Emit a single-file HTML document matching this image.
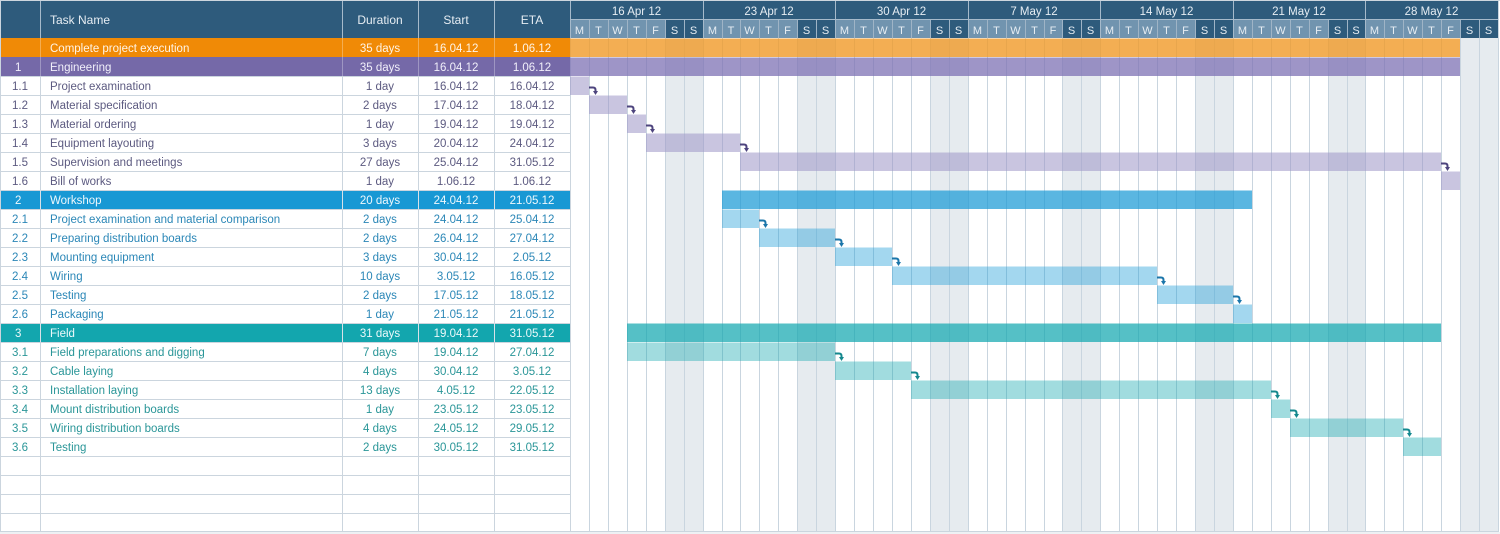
<!DOCTYPE html>
<html><head><meta charset="utf-8"><style>
html,body{margin:0;padding:0;background:#fff;}
svg{display:block;font-family:"Liberation Sans",Arial,sans-serif;}
</style></head><body>
<svg width="1500" height="534" viewBox="0 0 1500 534" xmlns="http://www.w3.org/2000/svg">
<rect x="0" y="0" width="1500" height="534" fill="#fff"/>
<!-- header -->
<rect x="0" y="0" width="1500" height="1" fill="#cdd6de"/>
<rect x="0" y="1" width="1499" height="37" fill="#2e5b7c"/>
<g fill="#7194af">
<rect x="570" y="20" width="95" height="18"/>
<rect x="703" y="20" width="94" height="18"/>
<rect x="835" y="20" width="95" height="18"/>
<rect x="968" y="20" width="94" height="18"/>
<rect x="1100" y="20" width="95" height="18"/>
<rect x="1233" y="20" width="95" height="18"/>
<rect x="1365" y="20" width="95" height="18"/>
</g>
<g stroke="#a6bacb" stroke-width="1">
<line x1="40.5" y1="1" x2="40.5" y2="38"/>
<line x1="342.5" y1="1" x2="342.5" y2="38"/>
<line x1="418.5" y1="1" x2="418.5" y2="38"/>
<line x1="494.5" y1="1" x2="494.5" y2="38"/>
<line x1="570.5" y1="1" x2="570.5" y2="38"/>
<line x1="570" y1="19.5" x2="1499" y2="19.5"/>
<line x1="703.5" y1="1" x2="703.5" y2="38"/>
<line x1="835.5" y1="1" x2="835.5" y2="38"/>
<line x1="968.5" y1="1" x2="968.5" y2="38"/>
<line x1="1100.5" y1="1" x2="1100.5" y2="38"/>
<line x1="1233.5" y1="1" x2="1233.5" y2="38"/>
<line x1="1365.5" y1="1" x2="1365.5" y2="38"/>
</g>
<g stroke="#9fb4c6" stroke-width="1">
<line x1="589.5" y1="20" x2="589.5" y2="38"/><line x1="608.5" y1="20" x2="608.5" y2="38"/><line x1="627.5" y1="20" x2="627.5" y2="38"/><line x1="646.5" y1="20" x2="646.5" y2="38"/><line x1="665.5" y1="20" x2="665.5" y2="38"/><line x1="684.5" y1="20" x2="684.5" y2="38"/>
<line x1="722.5" y1="20" x2="722.5" y2="38"/><line x1="740.5" y1="20" x2="740.5" y2="38"/><line x1="759.5" y1="20" x2="759.5" y2="38"/><line x1="778.5" y1="20" x2="778.5" y2="38"/><line x1="797.5" y1="20" x2="797.5" y2="38"/><line x1="816.5" y1="20" x2="816.5" y2="38"/>
<line x1="854.5" y1="20" x2="854.5" y2="38"/><line x1="873.5" y1="20" x2="873.5" y2="38"/><line x1="892.5" y1="20" x2="892.5" y2="38"/><line x1="911.5" y1="20" x2="911.5" y2="38"/><line x1="930.5" y1="20" x2="930.5" y2="38"/><line x1="949.5" y1="20" x2="949.5" y2="38"/>
<line x1="987.5" y1="20" x2="987.5" y2="38"/><line x1="1006.5" y1="20" x2="1006.5" y2="38"/><line x1="1025.5" y1="20" x2="1025.5" y2="38"/><line x1="1044.5" y1="20" x2="1044.5" y2="38"/><line x1="1062.5" y1="20" x2="1062.5" y2="38"/><line x1="1081.5" y1="20" x2="1081.5" y2="38"/>
<line x1="1119.5" y1="20" x2="1119.5" y2="38"/><line x1="1138.5" y1="20" x2="1138.5" y2="38"/><line x1="1157.5" y1="20" x2="1157.5" y2="38"/><line x1="1176.5" y1="20" x2="1176.5" y2="38"/><line x1="1195.5" y1="20" x2="1195.5" y2="38"/><line x1="1214.5" y1="20" x2="1214.5" y2="38"/>
<line x1="1252.5" y1="20" x2="1252.5" y2="38"/><line x1="1271.5" y1="20" x2="1271.5" y2="38"/><line x1="1290.5" y1="20" x2="1290.5" y2="38"/><line x1="1309.5" y1="20" x2="1309.5" y2="38"/><line x1="1328.5" y1="20" x2="1328.5" y2="38"/><line x1="1347.5" y1="20" x2="1347.5" y2="38"/>
<line x1="1384.5" y1="20" x2="1384.5" y2="38"/><line x1="1403.5" y1="20" x2="1403.5" y2="38"/><line x1="1422.5" y1="20" x2="1422.5" y2="38"/><line x1="1441.5" y1="20" x2="1441.5" y2="38"/><line x1="1460.5" y1="20" x2="1460.5" y2="38"/><line x1="1479.5" y1="20" x2="1479.5" y2="38"/>
</g>
<g fill="#e6edf3" font-size="12">
<text x="50" y="24">Task Name</text>
<text x="380" y="24" text-anchor="middle">Duration</text>
<text x="456" y="24" text-anchor="middle">Start</text>
<text x="532" y="24" text-anchor="middle">ETA</text>
</g>
<g fill="#e6edf3" font-size="11.5" text-anchor="middle">
<text x="636.5" y="15">16 Apr 12</text>
<text x="769" y="15">23 Apr 12</text>
<text x="901.5" y="15">30 Apr 12</text>
<text x="1034" y="15">7 May 12</text>
<text x="1166.5" y="15">14 May 12</text>
<text x="1299" y="15">21 May 12</text>
<text x="1431.5" y="15">28 May 12</text>
</g>
<g fill="#e6edf3" font-size="11" text-anchor="middle">
<text x="579.5" y="34">M</text><text x="598.5" y="34">T</text><text x="617.5" y="34">W</text><text x="636.5" y="34">T</text><text x="655.5" y="34">F</text><text x="674.5" y="34">S</text><text x="693.5" y="34">S</text>
<text x="712.5" y="34">M</text><text x="731" y="34">T</text><text x="749.5" y="34">W</text><text x="768.5" y="34">T</text><text x="787.5" y="34">F</text><text x="806.5" y="34">S</text><text x="825.5" y="34">S</text>
<text x="844.5" y="34">M</text><text x="863.5" y="34">T</text><text x="882.5" y="34">W</text><text x="901.5" y="34">T</text><text x="920.5" y="34">F</text><text x="939.5" y="34">S</text><text x="958.5" y="34">S</text>
<text x="977.5" y="34">M</text><text x="996.5" y="34">T</text><text x="1015.5" y="34">W</text><text x="1034.5" y="34">T</text><text x="1053" y="34">F</text><text x="1071.5" y="34">S</text><text x="1090.5" y="34">S</text>
<text x="1109.5" y="34">M</text><text x="1128.5" y="34">T</text><text x="1147.5" y="34">W</text><text x="1166.5" y="34">T</text><text x="1185.5" y="34">F</text><text x="1204.5" y="34">S</text><text x="1223.5" y="34">S</text>
<text x="1242.5" y="34">M</text><text x="1261.5" y="34">T</text><text x="1280.5" y="34">W</text><text x="1299.5" y="34">T</text><text x="1318.5" y="34">F</text><text x="1337.5" y="34">S</text><text x="1356" y="34">S</text>
<text x="1374.5" y="34">M</text><text x="1393.5" y="34">T</text><text x="1412.5" y="34">W</text><text x="1431.5" y="34">T</text><text x="1450.5" y="34">F</text><text x="1469.5" y="34">S</text><text x="1488.5" y="34">S</text>
</g>

<!-- table summary row backgrounds -->
<rect x="0" y="38" width="570" height="19" fill="#f08a06"/>
<rect x="0" y="57" width="570" height="19" fill="#7569a8"/>
<rect x="0" y="190" width="570" height="19" fill="#1898d4"/>
<rect x="0" y="323" width="570" height="19" fill="#13a6ae"/>

<!-- weekend shading -->
<g fill="#e6ebef">
<rect x="665" y="38" width="38" height="494"/>
<rect x="797" y="38" width="38" height="494"/>
<rect x="930" y="38" width="38" height="494"/>
<rect x="1062" y="38" width="38" height="494"/>
<rect x="1195" y="38" width="38" height="494"/>
<rect x="1328" y="38" width="37" height="494"/>
<rect x="1460" y="38" width="38" height="494"/>
</g>
<!-- chart gridlines -->
<g stroke="#c9d5df" stroke-width="1">
<line x1="589.5" y1="38" x2="589.5" y2="532"/><line x1="608.5" y1="38" x2="608.5" y2="532"/><line x1="627.5" y1="38" x2="627.5" y2="532"/><line x1="646.5" y1="38" x2="646.5" y2="532"/><line x1="665.5" y1="38" x2="665.5" y2="532"/><line x1="684.5" y1="38" x2="684.5" y2="532"/><line x1="703.5" y1="38" x2="703.5" y2="532"/>
<line x1="722.5" y1="38" x2="722.5" y2="532"/><line x1="740.5" y1="38" x2="740.5" y2="532"/><line x1="759.5" y1="38" x2="759.5" y2="532"/><line x1="778.5" y1="38" x2="778.5" y2="532"/><line x1="797.5" y1="38" x2="797.5" y2="532"/><line x1="816.5" y1="38" x2="816.5" y2="532"/><line x1="835.5" y1="38" x2="835.5" y2="532"/>
<line x1="854.5" y1="38" x2="854.5" y2="532"/><line x1="873.5" y1="38" x2="873.5" y2="532"/><line x1="892.5" y1="38" x2="892.5" y2="532"/><line x1="911.5" y1="38" x2="911.5" y2="532"/><line x1="930.5" y1="38" x2="930.5" y2="532"/><line x1="949.5" y1="38" x2="949.5" y2="532"/><line x1="968.5" y1="38" x2="968.5" y2="532"/>
<line x1="987.5" y1="38" x2="987.5" y2="532"/><line x1="1006.5" y1="38" x2="1006.5" y2="532"/><line x1="1025.5" y1="38" x2="1025.5" y2="532"/><line x1="1044.5" y1="38" x2="1044.5" y2="532"/><line x1="1062.5" y1="38" x2="1062.5" y2="532"/><line x1="1081.5" y1="38" x2="1081.5" y2="532"/><line x1="1100.5" y1="38" x2="1100.5" y2="532"/>
<line x1="1119.5" y1="38" x2="1119.5" y2="532"/><line x1="1138.5" y1="38" x2="1138.5" y2="532"/><line x1="1157.5" y1="38" x2="1157.5" y2="532"/><line x1="1176.5" y1="38" x2="1176.5" y2="532"/><line x1="1195.5" y1="38" x2="1195.5" y2="532"/><line x1="1214.5" y1="38" x2="1214.5" y2="532"/><line x1="1233.5" y1="38" x2="1233.5" y2="532"/>
<line x1="1252.5" y1="38" x2="1252.5" y2="532"/><line x1="1271.5" y1="38" x2="1271.5" y2="532"/><line x1="1290.5" y1="38" x2="1290.5" y2="532"/><line x1="1309.5" y1="38" x2="1309.5" y2="532"/><line x1="1328.5" y1="38" x2="1328.5" y2="532"/><line x1="1347.5" y1="38" x2="1347.5" y2="532"/><line x1="1365.5" y1="38" x2="1365.5" y2="532"/>
<line x1="1384.5" y1="38" x2="1384.5" y2="532"/><line x1="1403.5" y1="38" x2="1403.5" y2="532"/><line x1="1422.5" y1="38" x2="1422.5" y2="532"/><line x1="1441.5" y1="38" x2="1441.5" y2="532"/><line x1="1460.5" y1="38" x2="1460.5" y2="532"/><line x1="1479.5" y1="38" x2="1479.5" y2="532"/><line x1="1498.5" y1="1" x2="1498.5" y2="532"/>
</g>

<!-- table grid -->
<g stroke="#cbd5de" stroke-width="1">
<line x1="0" y1="76.5" x2="570" y2="76.5"/><line x1="0" y1="95.5" x2="570" y2="95.5"/><line x1="0" y1="114.5" x2="570" y2="114.5"/><line x1="0" y1="133.5" x2="570" y2="133.5"/><line x1="0" y1="152.5" x2="570" y2="152.5"/><line x1="0" y1="171.5" x2="570" y2="171.5"/><line x1="0" y1="190.5" x2="570" y2="190.5"/>
<line x1="0" y1="209.5" x2="570" y2="209.5"/><line x1="0" y1="228.5" x2="570" y2="228.5"/><line x1="0" y1="247.5" x2="570" y2="247.5"/><line x1="0" y1="266.5" x2="570" y2="266.5"/><line x1="0" y1="285.5" x2="570" y2="285.5"/><line x1="0" y1="304.5" x2="570" y2="304.5"/><line x1="0" y1="323.5" x2="570" y2="323.5"/>
<line x1="0" y1="342.5" x2="570" y2="342.5"/><line x1="0" y1="361.5" x2="570" y2="361.5"/><line x1="0" y1="380.5" x2="570" y2="380.5"/><line x1="0" y1="399.5" x2="570" y2="399.5"/><line x1="0" y1="418.5" x2="570" y2="418.5"/><line x1="0" y1="437.5" x2="570" y2="437.5"/><line x1="0" y1="456.5" x2="570" y2="456.5"/>
<line x1="0" y1="475.5" x2="570" y2="475.5"/><line x1="0" y1="494.5" x2="570" y2="494.5"/><line x1="0" y1="513.5" x2="570" y2="513.5"/><line x1="0" y1="531.5" x2="1499" y2="531.5"/>
<line x1="0.5" y1="0" x2="0.5" y2="532"/>
<line x1="40.5" y1="76" x2="40.5" y2="532"/>
<line x1="342.5" y1="76" x2="342.5" y2="532"/>
<line x1="418.5" y1="76" x2="418.5" y2="532"/>
<line x1="494.5" y1="76" x2="494.5" y2="532"/>
<line x1="570.5" y1="38" x2="570.5" y2="532"/>
</g>
<g stroke="#ffffff" stroke-opacity="0.3" stroke-width="1">
<line x1="40.5" y1="38" x2="40.5" y2="76"/><line x1="342.5" y1="38" x2="342.5" y2="76"/><line x1="418.5" y1="38" x2="418.5" y2="76"/><line x1="494.5" y1="38" x2="494.5" y2="76"/>
<line x1="40.5" y1="190" x2="40.5" y2="209"/><line x1="342.5" y1="190" x2="342.5" y2="209"/><line x1="418.5" y1="190" x2="418.5" y2="209"/><line x1="494.5" y1="190" x2="494.5" y2="209"/>
<line x1="40.5" y1="323" x2="40.5" y2="342"/><line x1="342.5" y1="323" x2="342.5" y2="342"/><line x1="418.5" y1="323" x2="418.5" y2="342"/><line x1="494.5" y1="323" x2="494.5" y2="342"/>
</g>
<rect x="0" y="532" width="1500" height="2" fill="#eef1f4"/>

<!-- bars -->
<rect x="570" y="38.5" width="890" height="18.5" fill="#f09a28" fill-opacity="0.8"/>
<rect x="570" y="57.5" width="890" height="18.5" fill="#7d72b4" fill-opacity="0.75"/>
<g fill="#9d95c6" fill-opacity="0.55">
<rect x="570" y="76.5" width="19" height="18.5"/>
<rect x="589" y="95.5" width="38" height="18.5"/>
<rect x="627" y="114.5" width="19" height="18.5"/>
<rect x="646" y="133.5" width="94" height="18.5"/>
<rect x="740" y="152.5" width="701" height="18.5"/>
<rect x="1441" y="171.5" width="19" height="18.5"/>
</g>
<rect x="722" y="190.5" width="530" height="18.5" fill="#1a9ad6" fill-opacity="0.72"/>
<g fill="#1a9ad6" fill-opacity="0.4">
<rect x="722" y="209.5" width="37" height="18.5"/>
<rect x="759" y="228.5" width="76" height="18.5"/>
<rect x="835" y="247.5" width="57" height="18.5"/>
<rect x="892" y="266.5" width="265" height="18.5"/>
<rect x="1157" y="285.5" width="76" height="18.5"/>
<rect x="1233" y="304.5" width="19" height="18.5"/>
</g>
<rect x="627" y="323.5" width="814" height="18.5" fill="#14a8b0" fill-opacity="0.72"/>
<g fill="#14a8b0" fill-opacity="0.4">
<rect x="627" y="342.5" width="208" height="18.5"/>
<rect x="835" y="361.5" width="76" height="18.5"/>
<rect x="911" y="380.5" width="360" height="18.5"/>
<rect x="1271" y="399.5" width="19" height="18.5"/>
<rect x="1290" y="418.5" width="113" height="18.5"/>
<rect x="1403" y="437.5" width="38" height="18.5"/>
</g>

<!-- arrows -->
<g fill="none" stroke-width="2">
<g stroke="#4d447e">
<path d="M589 87.5 H593 Q595.5 87.5 595.5 90 V92"/>
<path d="M627 106.5 H631 Q633.5 106.5 633.5 109 V111"/>
<path d="M646 125.5 H650 Q652.5 125.5 652.5 128 V130"/>
<path d="M740 144.5 H744 Q746.5 144.5 746.5 147 V149"/>
<path d="M1441 163.5 H1445 Q1447.5 163.5 1447.5 166 V168"/>
</g>
<g stroke="#1b76aa">
<path d="M759 220.5 H763 Q765.5 220.5 765.5 223 V225"/>
<path d="M835 239.5 H839 Q841.5 239.5 841.5 242 V244"/>
<path d="M892 258.5 H896 Q898.5 258.5 898.5 261 V263"/>
<path d="M1157 277.5 H1161 Q1163.5 277.5 1163.5 280 V282"/>
<path d="M1233 296.5 H1237 Q1239.5 296.5 1239.5 299 V301"/>
</g>
<g stroke="#14888e">
<path d="M835 353.5 H839 Q841.5 353.5 841.5 356 V358"/>
<path d="M911 372.5 H915 Q917.5 372.5 917.5 375 V377"/>
<path d="M1271 391.5 H1275 Q1277.5 391.5 1277.5 394 V396"/>
<path d="M1290 410.5 H1294 Q1296.5 410.5 1296.5 413 V415"/>
<path d="M1403 429.5 H1407 Q1409.5 429.5 1409.5 432 V434"/>
</g>
</g>
<g fill="#4d447e">
<polygon points="593,91 598,91 595.5,95"/>
<polygon points="631,110 636,110 633.5,114"/>
<polygon points="650,129 655,129 652.5,133"/>
<polygon points="744,148 749,148 746.5,152"/>
<polygon points="1445,167 1450,167 1447.5,171"/>
</g>
<g fill="#1b76aa">
<polygon points="763,224 768,224 765.5,228"/>
<polygon points="839,243 844,243 841.5,247"/>
<polygon points="896,262 901,262 898.5,266"/>
<polygon points="1161,281 1166,281 1163.5,285"/>
<polygon points="1237,300 1242,300 1239.5,304"/>
</g>
<g fill="#14888e">
<polygon points="839,357 844,357 841.5,361"/>
<polygon points="915,376 920,376 917.5,380"/>
<polygon points="1275,395 1280,395 1277.5,399"/>
<polygon points="1294,414 1299,414 1296.5,418"/>
<polygon points="1407,433 1412,433 1409.5,437"/>
</g>

<!-- table text -->
<g font-size="11.5">
<g fill="#fff4e6">
<text x="50" y="52">Complete project execution</text>
<text x="380" y="52" text-anchor="middle">35 days</text>
<text x="456" y="52" text-anchor="middle">16.04.12</text>
<text x="532" y="52" text-anchor="middle">1.06.12</text>
</g>
<g fill="#f1effa">
<text x="15" y="71">1</text>
<text x="50" y="71">Engineering</text>
<text x="380" y="71" text-anchor="middle">35 days</text>
<text x="456" y="71" text-anchor="middle">16.04.12</text>
<text x="532" y="71" text-anchor="middle">1.06.12</text>
</g>
<g fill="#5c5a80">
<text x="20" y="90" text-anchor="middle">1.1</text><text x="50" y="90">Project examination</text><text x="380" y="90" text-anchor="middle">1 day</text><text x="456" y="90" text-anchor="middle">16.04.12</text><text x="532" y="90" text-anchor="middle">16.04.12</text>
<text x="20" y="109" text-anchor="middle">1.2</text><text x="50" y="109">Material specification</text><text x="380" y="109" text-anchor="middle">2 days</text><text x="456" y="109" text-anchor="middle">17.04.12</text><text x="532" y="109" text-anchor="middle">18.04.12</text>
<text x="20" y="128" text-anchor="middle">1.3</text><text x="50" y="128">Material ordering</text><text x="380" y="128" text-anchor="middle">1 day</text><text x="456" y="128" text-anchor="middle">19.04.12</text><text x="532" y="128" text-anchor="middle">19.04.12</text>
<text x="20" y="147" text-anchor="middle">1.4</text><text x="50" y="147">Equipment layouting</text><text x="380" y="147" text-anchor="middle">3 days</text><text x="456" y="147" text-anchor="middle">20.04.12</text><text x="532" y="147" text-anchor="middle">24.04.12</text>
<text x="20" y="166" text-anchor="middle">1.5</text><text x="50" y="166">Supervision and meetings</text><text x="380" y="166" text-anchor="middle">27 days</text><text x="456" y="166" text-anchor="middle">25.04.12</text><text x="532" y="166" text-anchor="middle">31.05.12</text>
<text x="20" y="185" text-anchor="middle">1.6</text><text x="50" y="185">Bill of works</text><text x="380" y="185" text-anchor="middle">1 day</text><text x="456" y="185" text-anchor="middle">1.06.12</text><text x="532" y="185" text-anchor="middle">1.06.12</text>
</g>
<g fill="#eef8fd">
<text x="15" y="204">2</text>
<text x="50" y="204">Workshop</text>
<text x="380" y="204" text-anchor="middle">20 days</text>
<text x="456" y="204" text-anchor="middle">24.04.12</text>
<text x="532" y="204" text-anchor="middle">21.05.12</text>
</g>
<g fill="#2b87b7">
<text x="20" y="223" text-anchor="middle">2.1</text><text x="50" y="223">Project examination and material comparison</text><text x="380" y="223" text-anchor="middle">2 days</text><text x="456" y="223" text-anchor="middle">24.04.12</text><text x="532" y="223" text-anchor="middle">25.04.12</text>
<text x="20" y="242" text-anchor="middle">2.2</text><text x="50" y="242">Preparing distribution boards</text><text x="380" y="242" text-anchor="middle">2 days</text><text x="456" y="242" text-anchor="middle">26.04.12</text><text x="532" y="242" text-anchor="middle">27.04.12</text>
<text x="20" y="261" text-anchor="middle">2.3</text><text x="50" y="261">Mounting equipment</text><text x="380" y="261" text-anchor="middle">3 days</text><text x="456" y="261" text-anchor="middle">30.04.12</text><text x="532" y="261" text-anchor="middle">2.05.12</text>
<text x="20" y="280" text-anchor="middle">2.4</text><text x="50" y="280">Wiring</text><text x="380" y="280" text-anchor="middle">10 days</text><text x="456" y="280" text-anchor="middle">3.05.12</text><text x="532" y="280" text-anchor="middle">16.05.12</text>
<text x="20" y="299" text-anchor="middle">2.5</text><text x="50" y="299">Testing</text><text x="380" y="299" text-anchor="middle">2 days</text><text x="456" y="299" text-anchor="middle">17.05.12</text><text x="532" y="299" text-anchor="middle">18.05.12</text>
<text x="20" y="318" text-anchor="middle">2.6</text><text x="50" y="318">Packaging</text><text x="380" y="318" text-anchor="middle">1 day</text><text x="456" y="318" text-anchor="middle">21.05.12</text><text x="532" y="318" text-anchor="middle">21.05.12</text>
</g>
<g fill="#ecf9fa">
<text x="15" y="337">3</text>
<text x="50" y="337">Field</text>
<text x="380" y="337" text-anchor="middle">31 days</text>
<text x="456" y="337" text-anchor="middle">19.04.12</text>
<text x="532" y="337" text-anchor="middle">31.05.12</text>
</g>
<g fill="#2a9698">
<text x="20" y="356" text-anchor="middle">3.1</text><text x="50" y="356">Field preparations and digging</text><text x="380" y="356" text-anchor="middle">7 days</text><text x="456" y="356" text-anchor="middle">19.04.12</text><text x="532" y="356" text-anchor="middle">27.04.12</text>
<text x="20" y="375" text-anchor="middle">3.2</text><text x="50" y="375">Cable laying</text><text x="380" y="375" text-anchor="middle">4 days</text><text x="456" y="375" text-anchor="middle">30.04.12</text><text x="532" y="375" text-anchor="middle">3.05.12</text>
<text x="20" y="394" text-anchor="middle">3.3</text><text x="50" y="394">Installation laying</text><text x="380" y="394" text-anchor="middle">13 days</text><text x="456" y="394" text-anchor="middle">4.05.12</text><text x="532" y="394" text-anchor="middle">22.05.12</text>
<text x="20" y="413" text-anchor="middle">3.4</text><text x="50" y="413">Mount distribution boards</text><text x="380" y="413" text-anchor="middle">1 day</text><text x="456" y="413" text-anchor="middle">23.05.12</text><text x="532" y="413" text-anchor="middle">23.05.12</text>
<text x="20" y="432" text-anchor="middle">3.5</text><text x="50" y="432">Wiring distribution boards</text><text x="380" y="432" text-anchor="middle">4 days</text><text x="456" y="432" text-anchor="middle">24.05.12</text><text x="532" y="432" text-anchor="middle">29.05.12</text>
<text x="20" y="451" text-anchor="middle">3.6</text><text x="50" y="451">Testing</text><text x="380" y="451" text-anchor="middle">2 days</text><text x="456" y="451" text-anchor="middle">30.05.12</text><text x="532" y="451" text-anchor="middle">31.05.12</text>
</g>
</g>
</svg>
</body></html>
